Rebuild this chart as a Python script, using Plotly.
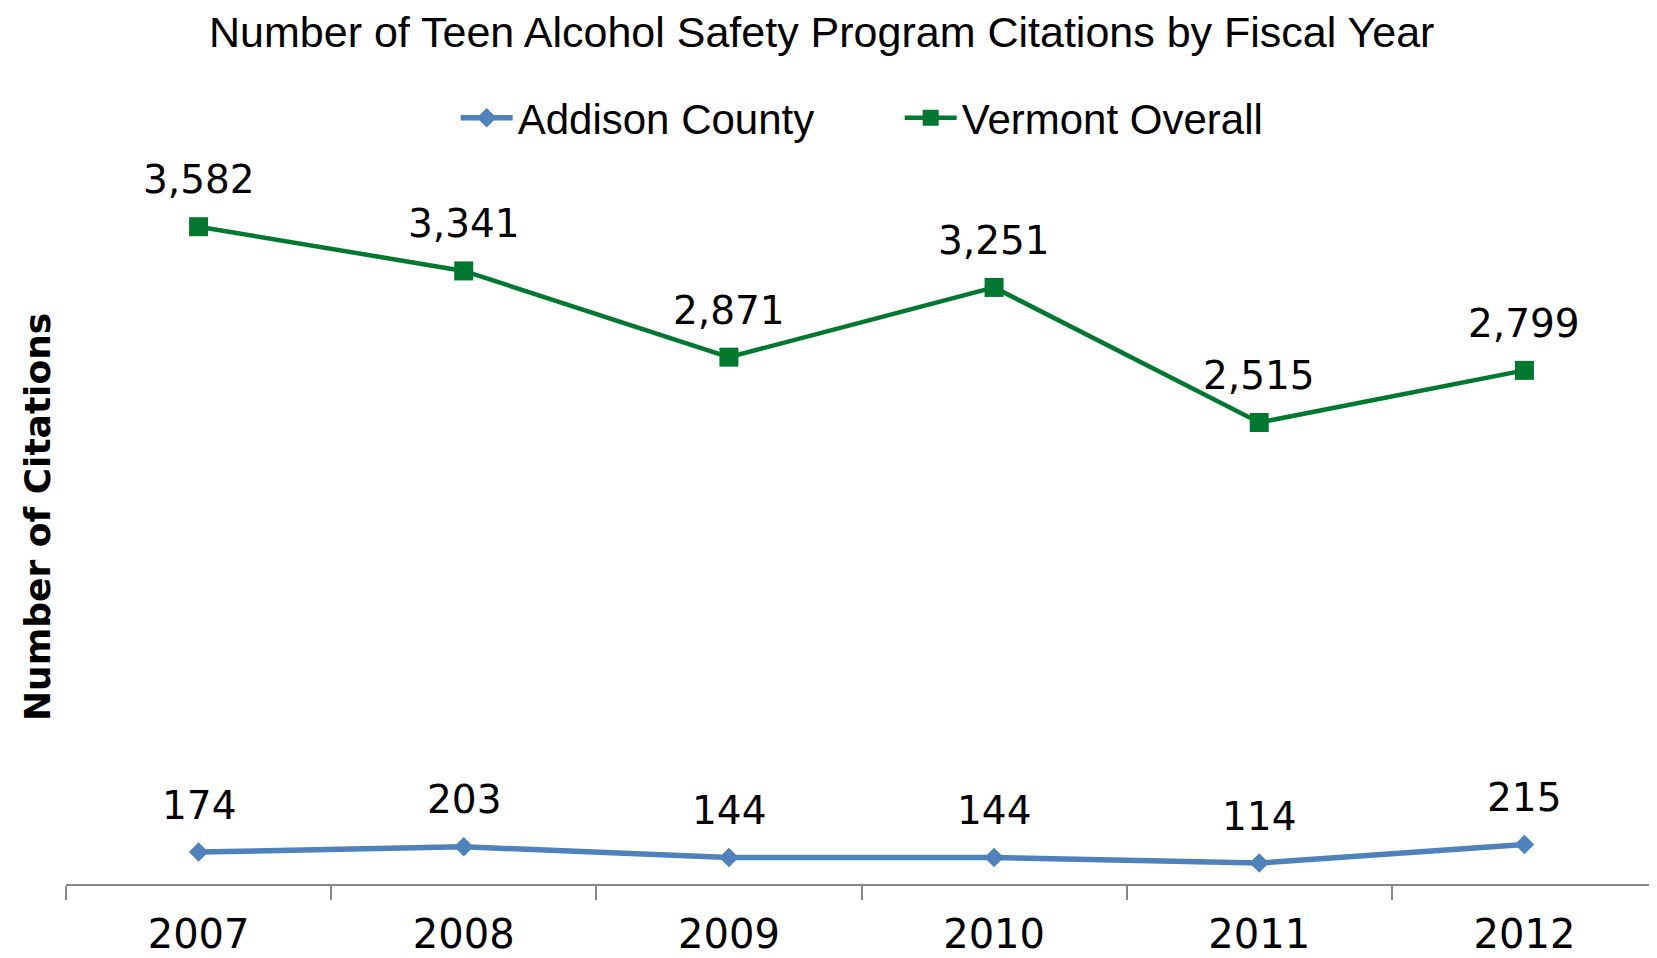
import plotly.graph_objects as go

years = ["2007", "2008", "2009", "2010", "2011", "2012"]
addison = [174, 203, 144, 144, 114, 215]
vermont = [3582, 3341, 2871, 3251, 2515, 2799]

title_text = "Number of Teen Alcohol Safety Program Citations by Fiscal Year"
y_title = "Number of Citations"

BLUE = "#4F81BD"
GREEN = "#00782F"
NUM_FONT = "DejaVu Sans"
TXT_FONT = "Liberation Sans"

fig = go.Figure()
fig.add_trace(go.Scatter(
    x=years, y=addison, name="Addison County", mode="lines+markers",
    line=dict(color=BLUE, width=5.5),
    marker=dict(symbol="diamond", size=15, color=BLUE),
))
fig.add_trace(go.Scatter(
    x=years, y=vermont, name="Vermont Overall", mode="lines+markers",
    line=dict(color=GREEN, width=4.5),
    marker=dict(symbol="square", size=19, color=GREEN),
))

annotations = []
for series in (addison, vermont):
    for i, v in enumerate(series):
        annotations.append(dict(
            x=i, y=v, xref="x", yref="y", text=f"{v:,}", showarrow=False,
            yshift=47, xanchor="center", yanchor="middle",
            font=dict(family=NUM_FONT, size=39, color="black"),
        ))

annotations.append(dict(
    x=-0.0182, y=0.5, xref="paper", yref="paper", text=f"<b>{y_title}</b>",
    textangle=-90, showarrow=False, xanchor="center", yanchor="middle",
    font=dict(family="DejaVu Sans", size=36, color="black"),
))

fig.update_layout(
    width=1649, height=950,
    margin=dict(l=58, r=0, t=142, b=74, autoexpand=False),
    paper_bgcolor="white", plot_bgcolor="white",
    title=dict(text=title_text, x=0.475, xref="paper", xanchor="center",
               y=0.975, yref="container", yanchor="middle",
               font=dict(family=TXT_FONT, size=43, color="black")),
    legend=dict(orientation="h", x=0.524, xanchor="center", y=1.0436,
                yanchor="middle", font=dict(family=TXT_FONT, size=42, color="black"),
                entrywidth=377, entrywidthmode="pixels", itemwidth=52,
                bgcolor="rgba(0,0,0,0)"),
    showlegend=True,
    annotations=annotations,
    xaxis=dict(type="category", range=[-0.5, 5.5], showgrid=False, zeroline=False,
               showline=True, linecolor="#868686", linewidth=2,
               ticks="outside", tickson="boundaries", ticklen=14, tickwidth=2,
               tickcolor="#868686", ticklabelstandoff=14, automargin=False,
               tickfont=dict(family=NUM_FONT, size=40, color="black"),
               fixedrange=True),
    yaxis=dict(range=[0, 4000], showgrid=False, zeroline=False, showline=False,
               showticklabels=False, ticks="", fixedrange=True, automargin=False),
)

fig.write_html("out.html")
